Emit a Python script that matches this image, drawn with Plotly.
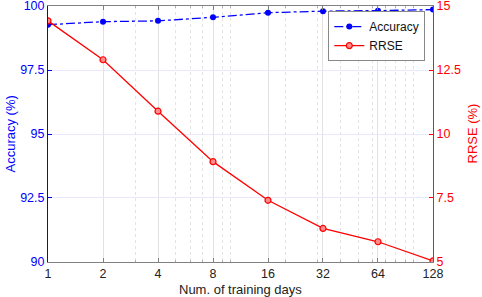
import plotly.graph_objects as go

days = [1, 2, 4, 8, 16, 32, 64, 128]
accuracy = [99.27, 99.39, 99.42, 99.56, 99.74, 99.80, 99.82, 99.86]
rrse = [14.42, 12.90, 10.89, 8.92, 7.41, 6.31, 5.79, 5.04]
x_ticks = [1, 2, 4, 8, 16, 32, 64, 128]
x_minor = [3, 5, 6, 7, 9, 10, 20, 30, 40, 50, 60, 70, 80, 90, 100]
acc_ticks = [90, 92.5, 95, 97.5, 100]
rrse_ticks = [5, 7.5, 10, 12.5, 15]

FONT = "Liberation Sans, Arial, sans-serif"
BLUE = "#0000ff"
RED = "#ff0000"

fig = go.Figure()
fig.add_trace(go.Scatter(
    x=days, y=accuracy, name="Accuracy", mode="lines+markers",
    line=dict(color=BLUE, width=1.3, dash="dashdot"),
    marker=dict(color=BLUE, size=6, symbol="circle"),
    yaxis="y"))
fig.add_trace(go.Scatter(
    x=days, y=rrse, name="RRSE", mode="lines+markers",
    line=dict(color=RED, width=1.3),
    marker=dict(color="rgba(255,140,140,1)", size=6, symbol="circle",
                line=dict(color=RED, width=1.2)),
    yaxis="y2"))

fig.update_layout(
    template="none",
    width=482, height=297,
    margin=dict(l=48, r=49, t=6, b=35, autoexpand=False),
    paper_bgcolor="white", plot_bgcolor="white",
    font=dict(family=FONT, size=12, color="black"),
    showlegend=True,
    legend=dict(x=0.98, y=0.98, xanchor="right", yanchor="top",
                bgcolor="white", bordercolor="#888888", borderwidth=1,
                font=dict(size=12, family=FONT, color="#111111"), tracegroupgap=0,
                itemwidth=30),
    xaxis=dict(
        type="log", range=[-0.0001, 2.1073], tickvals=x_ticks,
        ticktext=[str(v) for v in x_ticks], automargin=False,
        ticklabeloverflow="allow",
        showline=True, linecolor="#808080", linewidth=1, mirror="ticks",
        ticks="inside", ticklen=4, tickcolor="#808080",
        showgrid=True, gridcolor="#e2e2e2", gridwidth=1,
        tickfont=dict(size=12.5, color="#222222"),
        minor=dict(tickvals=x_minor, showgrid=True, gridcolor="#e2e2e2",
                   griddash="dot", gridwidth=1, ticks="inside", ticklen=2,
                   tickcolor="#b0b0b0"),
        zeroline=False),
    yaxis=dict(
        range=[89.999, 100.001], tickvals=acc_ticks,
        ticktext=["90", "92.5", "95", "97.5", "100"], automargin=False,
        ticklabeloverflow="allow",
        showline=True, linecolor=BLUE, linewidth=1,
        ticks="inside", ticklen=4, tickcolor=BLUE,
        showgrid=True, gridcolor="#e8e8ff", gridwidth=1,
        tickfont=dict(size=12.5, color=BLUE),
        zeroline=False),
    yaxis2=dict(
        range=[4.999, 15.001], tickvals=rrse_ticks,
        ticktext=["5", "7.5", "10", "12.5", "15"], automargin=False,
        ticklabeloverflow="allow",
        overlaying="y", side="right",
        showline=True, linecolor="#b03050", linewidth=1,
        ticks="inside", ticklen=4, tickcolor=RED,
        showgrid=False,
        tickfont=dict(size=12.5, color=RED),
        zeroline=False),
    annotations=[
        dict(text="Accuracy (%)", xref="paper", yref="paper", x=-0.1, y=0.5,
             xanchor="center", yanchor="middle", textangle=-90, showarrow=False,
             font=dict(size=13, color=BLUE, family=FONT)),
        dict(text="RRSE (%)", xref="paper", yref="paper", x=1.1, y=0.5,
             xanchor="center", yanchor="middle", textangle=-90, showarrow=False,
             font=dict(size=13, color=RED, family=FONT)),
        dict(text="Num. of training days", xref="paper", yref="paper", x=0.5, y=-0.107,
             xanchor="center", yanchor="middle", showarrow=False,
             font=dict(size=13, color="#222222", family=FONT)),
    ],
)

fig.write_html("out.html", config={"displayModeBar": False},
               post_script="document.body.style.margin='0';document.body.style.padding='0';")
